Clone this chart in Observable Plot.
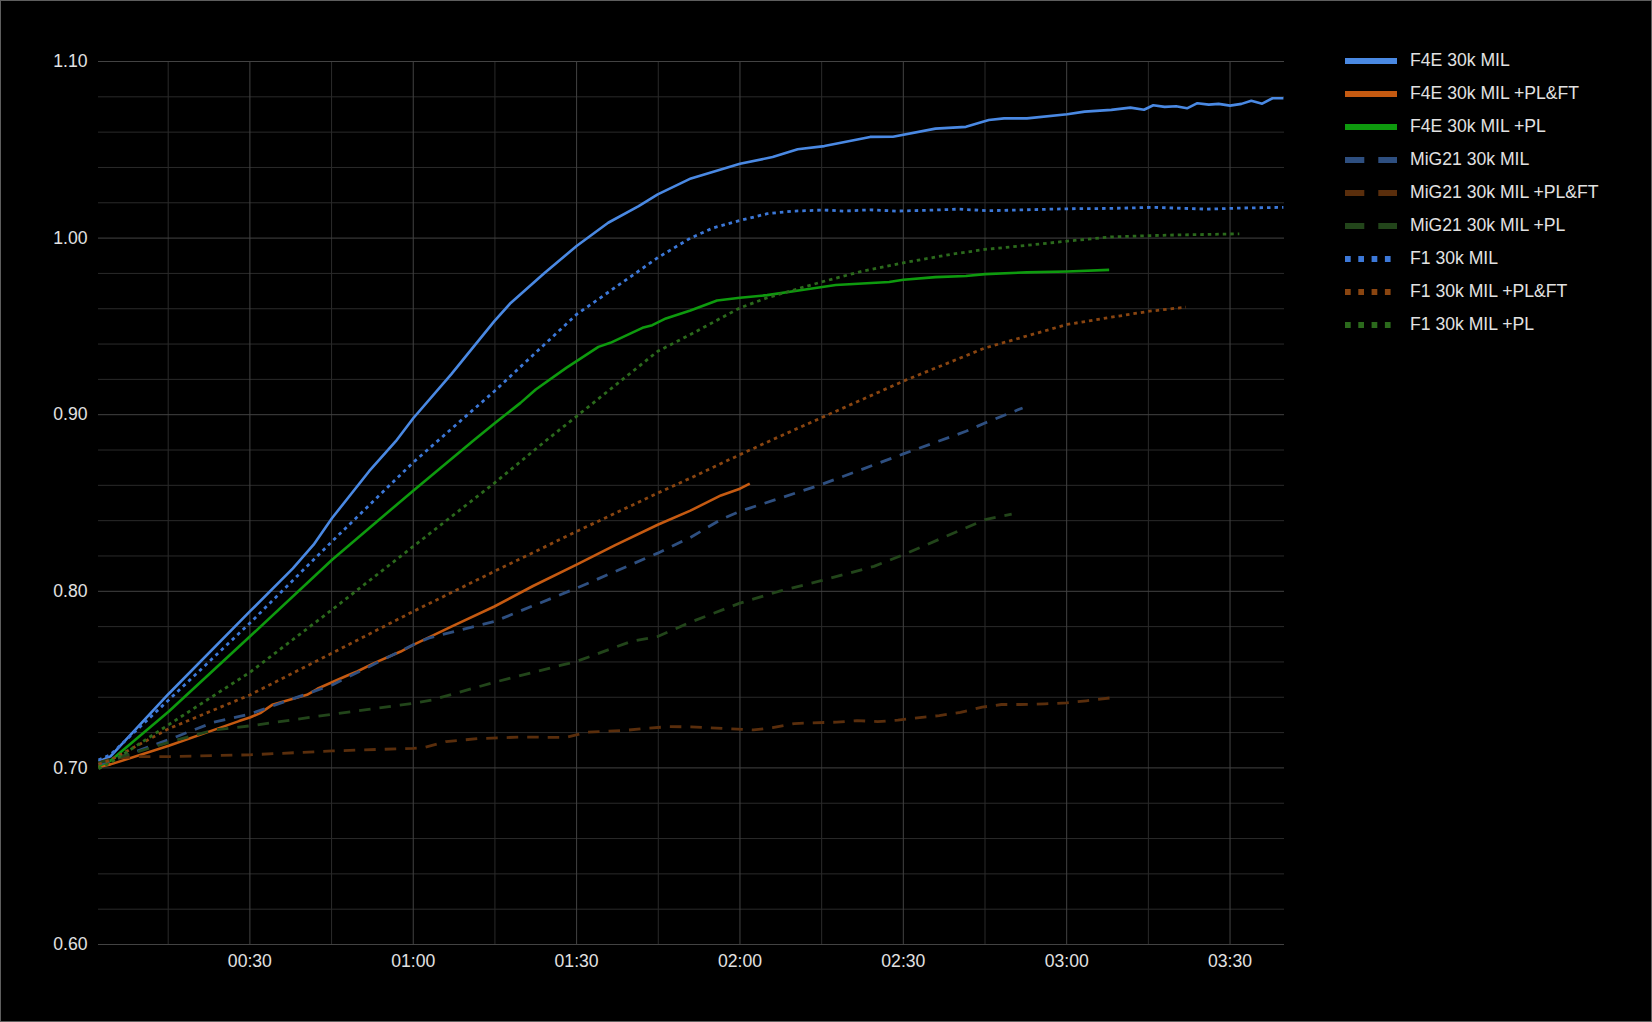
<!DOCTYPE html>
<html><head><meta charset="utf-8">
<script src="https://cdn.jsdelivr.net/npm/d3@7"></script>
<script src="https://cdn.jsdelivr.net/npm/@observablehq/plot@0.6"></script>
<style>
html,body{margin:0;padding:0;background:#000;}
#wrap{position:relative;width:1652px;height:1022px;background:#000;overflow:hidden;}
#frame{position:absolute;left:0;top:0;width:1652px;height:1022px;box-sizing:border-box;border:1px solid #5e5e5e;pointer-events:none;}
#legend{position:absolute;left:1345px;top:44px;font-family:"Liberation Sans",Arial,sans-serif;font-size:17.6px;color:#e2e2e2;}
.row{height:33px;display:flex;align-items:center;white-space:nowrap;}
.row svg{margin-right:13px;display:block;}
</style></head>
<body><div id="wrap"><div id="chart"></div><div id="legend"></div><div id="frame"></div></div>
<script>
// ---- data (time in seconds, value) ----
const SERIES = ["F4E 30k MIL","F4E 30k MIL +PL&FT","F4E 30k MIL +PL","MiG21 30k MIL","MiG21 30k MIL +PL&FT","MiG21 30k MIL +PL","F1 30k MIL","F1 30k MIL +PL&FT","F1 30k MIL +PL"];
const COLORS = ["#4a89e3","#c55a11","#0e9a0e","#2e4f80","#5a2e0c","#22451a","#3c78d8","#8a4510","#2b6a1c"];
const STYLES = ["solid","solid","solid","dash","dash","dash","dot","dot","dot"];

const F4E_MIL = [[2.2,0.7035],[4.4,0.7065],[15.1,0.742],[30,0.7886],[37.9,0.813],[41.7,0.8264],[45.1,0.8415],[51.9,0.868],[56.8,0.885],[60,0.898],[67,0.923],[74.9,0.953],[77.9,0.9633],[84,0.98],[90,0.9955],[95.8,1.0087],[101.4,1.0181],[104.9,1.0248],[111,1.0338],[120,1.0421],[126,1.0459],[130.6,1.0503],[135.5,1.0521],[143.9,1.0573],[148.1,1.0574],[155.9,1.062],[161.5,1.063],[165.7,1.0669],[168.5,1.0678],[172.7,1.0678],[180.1,1.0701],[183.3,1.0716],[188.2,1.0726],[191.7,1.0739],[194.2,1.0727],[195.9,1.0752],[198,1.0743],[200.1,1.0747],[202.1,1.0735],[204,1.0764],[206.1,1.0756],[207.9,1.076],[210,1.075],[212.1,1.076],[213.9,1.0778],[215.9,1.0761],[217.8,1.0792],[219.8,1.0792]];
const F4E_PLFT = [[2.2,0.7005],[4.4,0.702],[15.1,0.7125],[24.6,0.7228],[28,0.7265],[30,0.7285],[31.9,0.731],[34.1,0.7357],[40.5,0.7414],[42.4,0.7448],[45.4,0.7489],[47.9,0.7523],[49.7,0.7546],[52.8,0.7593],[57.7,0.7659],[60,0.7697],[67,0.780],[74.9,0.7914],[82,0.803],[90,0.8151],[97,0.826],[104.9,0.8377],[110.9,0.8457],[116.5,0.8543],[120,0.8581],[121.8,0.861]];
const F4E_PL = [[2.2,0.701],[4.4,0.704],[15.1,0.7319],[30,0.7744],[45.1,0.8179],[60,0.857],[70.9,0.885],[74.9,0.895],[79.7,0.9067],[82.5,0.9143],[88.1,0.9265],[90,0.9303],[94,0.9384],[96.2,0.9407],[102.1,0.9492],[103.9,0.9507],[106.4,0.9545],[110.9,0.959],[115.8,0.9647],[120,0.9662],[125,0.9677],[132,0.9709],[137.6,0.9734],[147.4,0.9751],[150,0.9764],[155.9,0.9779],[161.5,0.9785],[165,0.9796],[172.7,0.9806],[180.1,0.9811],[187.8,0.982]];
const MIG_MIL = [[2.2,0.702],[4.4,0.704],[15.1,0.716],[23.4,0.7259],[30,0.7305],[45.1,0.747],[60,0.7697],[62.8,0.7735],[74.9,0.7829],[90,0.8018],[104.9,0.8216],[110.9,0.8305],[116.5,0.8406],[120,0.8453],[134.9,0.8604],[150,0.8778],[161.5,0.8906],[165,0.8953],[171.9,0.9038]];
const MIG_PLFT = [[2.2,0.703],[4.4,0.705],[8.7,0.7064],[15.1,0.7064],[30,0.7074],[45.1,0.7096],[60,0.7111],[62,0.7115],[66,0.7149],[72,0.7166],[80,0.7175],[88,0.7172],[92,0.7202],[99,0.7213],[103,0.7224],[107,0.7234],[111,0.7232],[114.6,0.7227],[118.5,0.7221],[122.5,0.7215],[126,0.7228],[130,0.7251],[133,0.7255],[137.8,0.7259],[141.5,0.7268],[145.3,0.7262],[149,0.727],[153,0.7285],[156.6,0.7296],[160.5,0.7315],[164.5,0.7344],[168,0.7359],[171.5,0.7359],[176,0.7363],[180,0.7368],[183.6,0.738],[188.2,0.7397]];
const MIG_PL = [[2.2,0.703],[4.4,0.7045],[15.1,0.7145],[23.4,0.7215],[30,0.7238],[45.1,0.7304],[60,0.7366],[63.5,0.7385],[74.9,0.7485],[87,0.758],[90,0.7603],[100,0.7716],[104.9,0.7744],[110.9,0.7825],[120,0.7933],[127.1,0.7999],[134.9,0.806],[144.6,0.8141],[150,0.8207],[165,0.8406],[167.1,0.8419],[169.9,0.8437]];
const F1_MIL = [[2.2,0.7045],[4.4,0.7075],[15.1,0.7385],[30,0.782],[45.1,0.8283],[60,0.873],[74.9,0.9133],[90,0.9568],[104.9,0.9889],[110.9,1.0],[115.1,1.0058],[120,1.01],[125,1.0138],[129.9,1.0153],[135.5,1.0159],[139,1.0153],[143.9,1.016],[148.8,1.0153],[155,1.0158],[160.1,1.0164],[165.7,1.0155],[172,1.016],[180.1,1.0166],[188,1.0168],[195.9,1.0174],[200,1.017],[205.7,1.0164],[212,1.017],[219.8,1.0174]];
const F1_PLFT = [[2.2,0.702],[4.4,0.7045],[15.1,0.7222],[30,0.7413],[45.1,0.765],[60,0.7886],[74.9,0.8113],[90,0.8339],[104.9,0.8556],[110.9,0.8641],[120,0.8774],[126,0.8859],[134.9,0.8982],[150,0.919],[165,0.9378],[180.1,0.9511],[188.2,0.9552],[195.2,0.9586],[201.9,0.9609]];
const F1_PL = [[2.2,0.6995],[4.4,0.703],[15.1,0.7245],[30,0.7541],[45.1,0.7896],[60,0.8254],[74.9,0.8613],[84.6,0.8859],[90,0.8991],[104.9,0.9359],[110.9,0.9454],[120,0.9605],[125,0.9662],[134.9,0.9751],[142.5,0.9813],[150,0.986],[158.7,0.9908],[165,0.9936],[172.7,0.9959],[180.1,0.9983],[188.2,1.0007],[198.7,1.0017],[211.7,1.0024]];

const POINTS = [F4E_MIL,F4E_PLFT,F4E_PL,MIG_MIL,MIG_PLFT,MIG_PL,F1_MIL,F1_PLFT,F1_PL];

const X_TICKS = [30,60,90,120,150,180,210];
const X_MINOR = [15,45,75,105,135,165,195];
const X_DOMAIN = [2.2,220];
const Y_TICKS = [0.6,0.7,0.8,0.9,1.0,1.1];
const Y_MINOR = [0.62,0.64,0.66,0.68,0.72,0.74,0.76,0.78,0.82,0.84,0.86,0.88,0.92,0.94,0.96,0.98,1.02,1.04,1.06,1.08];
const Y_DOMAIN = [0.6,1.1];

// ---- styles ----
const STYLE_OPTS = {
  solid: {strokeWidth: 2.6, strokeDasharray: null},
  dash:  {strokeWidth: 2.8, strokeDasharray: "11.5,9"},
  dot:   {strokeWidth: 2.8, strokeDasharray: "3.5,4"}
};
const LEGEND_DASH = {solid: null, dash: "19.3,14", dot: "5.7,7.6"};

const fmtTime = s => {
  const m = Math.floor(s / 60), ss = Math.round(s % 60);
  return String(m).padStart(2, "0") + ":" + String(ss).padStart(2, "0");
};

const lineMarks = SERIES.map((name, i) => {
  const rows = POINTS[i].map(([t, v]) => ({name, t, v}));
  const st = STYLE_OPTS[STYLES[i]];
  const o = {x: "t", y: "v", stroke: COLORS[i], strokeWidth: st.strokeWidth, strokeLinejoin: "round", strokeLinecap: "butt"};
  if (st.strokeDasharray) o.strokeDasharray = st.strokeDasharray;
  return Plot.line(rows, o);
});

const chart = Plot.plot({
  width: 1652,
  height: 1022,
  marginLeft: 98,
  marginRight: 368,
  marginTop: 61,
  marginBottom: 78,
  style: {background: "#000", color: "#e2e2e2", fontFamily: "'Liberation Sans', Arial, sans-serif", fontSize: "17.6px"},
  x: {domain: X_DOMAIN},
  y: {domain: Y_DOMAIN},
  marks: [
    Plot.ruleY(Y_MINOR, {stroke: "#2a2a2a", strokeWidth: 1}),
    Plot.ruleX(X_MINOR, {stroke: "#2a2a2a", strokeWidth: 1}),
    Plot.ruleY(Y_TICKS, {stroke: "#434343", strokeWidth: 1}),
    Plot.ruleX(X_TICKS, {stroke: "#434343", strokeWidth: 1}),
    ...lineMarks,
    Plot.axisX(X_TICKS, {tickSize: 0, tickPadding: 10, tickFormat: fmtTime, label: null, fontSize: 17.6, fill: "#e2e2e2"}),
    Plot.axisY(Y_TICKS, {tickSize: 0, tickPadding: 11, tickFormat: d3.format(".2f"), label: null, fontSize: 17.6, fill: "#e2e2e2"})
  ]
});
document.getElementById("chart").appendChild(chart);

// ---- legend ----
const legend = d3.select("#legend");
SERIES.forEach((name, i) => {
  const row = legend.append("div").attr("class", "row");
  const svg = row.append("svg").attr("width", 52).attr("height", 8);
  const ln = svg.append("line").attr("x1", 0).attr("x2", 52).attr("y1", 4).attr("y2", 4)
    .attr("stroke", COLORS[i]).attr("stroke-width", 6).attr("stroke-linecap", "butt");
  if (LEGEND_DASH[STYLES[i]]) ln.attr("stroke-dasharray", LEGEND_DASH[STYLES[i]]);
  row.append("span").text(name);
});
</script>
</body></html>
